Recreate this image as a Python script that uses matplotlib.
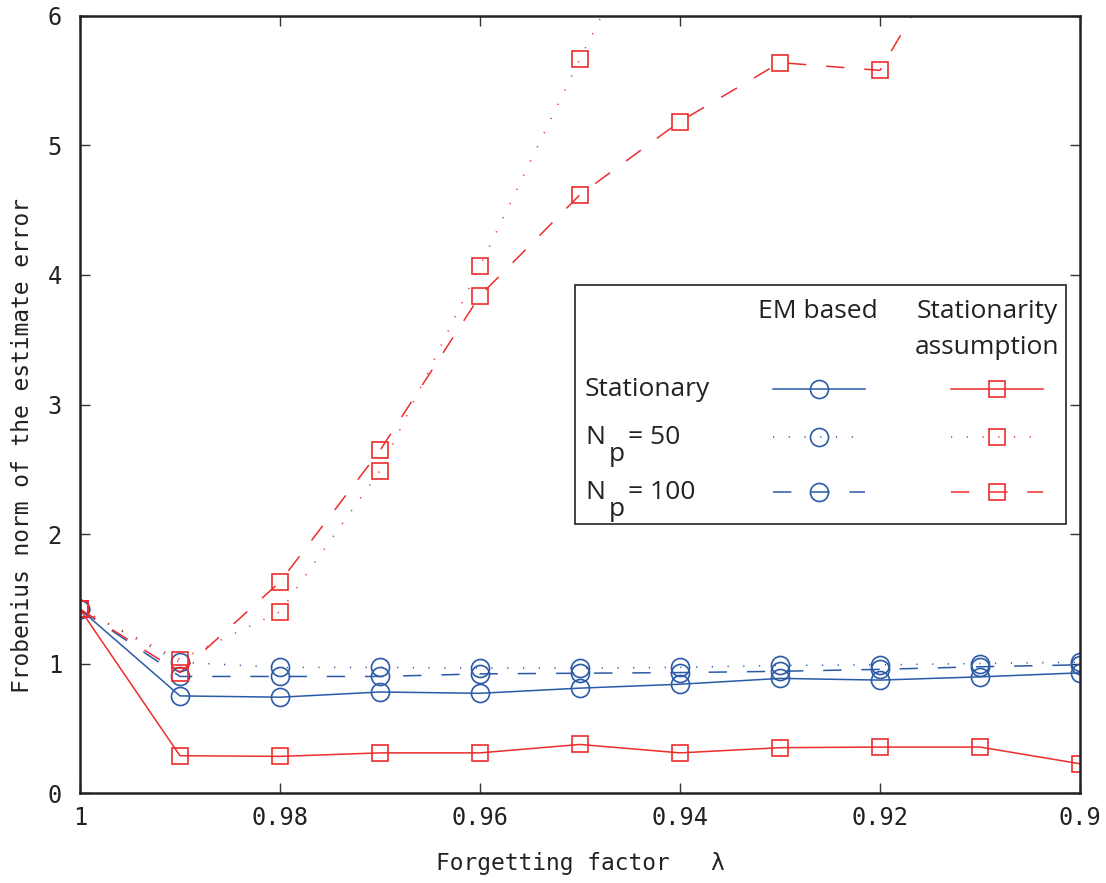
import matplotlib.pyplot as plt
from matplotlib.patches import Rectangle

# forgetting factor values (x axis runs from 1 down to 0.9)
lam = [1.00, 0.99, 0.98, 0.97, 0.96, 0.95, 0.94, 0.93, 0.92, 0.91, 0.90]

# EM based estimator
em_stationary = [1.42, 0.75, 0.74, 0.78, 0.77, 0.81, 0.84, 0.885, 0.872, 0.897, 0.928]
em_np50 = [1.42, 1.01, 0.97, 0.97, 0.965, 0.965, 0.97, 0.985, 0.99, 1.00, 1.01]
em_np100 = [1.42, 0.90, 0.90, 0.90, 0.92, 0.925, 0.93, 0.94, 0.955, 0.975, 0.99]

# estimator under the stationarity assumption
sa_stationary = [1.42, 0.288, 0.283, 0.31, 0.31, 0.375, 0.31, 0.35, 0.355, 0.355, 0.226]
sa_np50 = [1.42, 1.03, 1.40, 2.49, 4.07, 5.67, 7.2, 8.4, 9.5, 10.6, 11.5]
sa_np100 = [1.42, 0.93, 1.63, 2.645, 3.84, 4.62, 5.185, 5.64, 5.58, 6.9, 7.6]

xticks = [1.00, 0.98, 0.96, 0.94, 0.92, 0.90]
xticklabels = ['1', '0.98', '0.96', '0.94', '0.92', '0.9']
yticks = [0, 1, 2, 3, 4, 5, 6]

blue = '#2a5aa8'
red = '#ee2c2c'
solid = '-'
dotted = (0, (0.8, 9.5))
dashed = (0, (12, 13))

mono = 'DejaVu Sans Mono'
sans = 'Open Sans'

fig = plt.figure(figsize=(11.06, 8.83), dpi=100)
ax = fig.add_axes([0.0723, 0.1019, 0.9042, 0.88])

series = [
    (em_stationary, blue, solid, 'o', 13),
    (em_np50, blue, dotted, 'o', 13),
    (em_np100, blue, dashed, 'o', 13),
    (sa_stationary, red, solid, 's', 11),
    (sa_np50, red, dotted, 's', 11),
    (sa_np100, red, dashed, 's', 11),
]
for vals, color, ls, mk, ms in series:
    ax.plot(lam, vals, color=color, linestyle=ls, linewidth=1.1,
            marker=mk, markersize=ms, markerfacecolor='none',
            markeredgecolor=color, markeredgewidth=1.2)

ax.set_xlim(1.0, 0.9)
ax.set_ylim(0, 6)
ax.set_xticks(xticks)
ax.set_xticklabels(xticklabels)
ax.set_yticks(yticks)
ax.tick_params(direction='in', length=7, width=1.0, color='#333333',
               top=True, right=True, labelsize=17, labelcolor='#222222')
ax.tick_params(axis='x', pad=9)
ax.tick_params(axis='y', pad=13)
for lab in ax.get_xticklabels() + ax.get_yticklabels():
    lab.set_family(mono)
for sp in ax.spines.values():
    sp.set_linewidth(1.8)
    sp.set_color('#222222')

ax.set_xlabel('Forgetting factor   \u03bb', family=mono, fontsize=16.5,
              color='#222222', labelpad=16)
ax.set_ylabel('Frobenius norm of the estimate error', family=mono,
              fontsize=16.5, color='#222222')
ax.yaxis.set_label_coords(-0.046, 0.447)

# hand-built legend table: rows are the scenarios, columns the estimators
ax.add_patch(Rectangle((0.495, 0.346), 0.491, 0.308, transform=ax.transAxes,
                       facecolor='white', edgecolor='#222222',
                       linewidth=1.2, zorder=5))

def ax_x(px):
    return (px - 80) / 1000.0

def ax_y(py):
    return (793 - py) / 777.0

fs = 19
tk = dict(transform=ax.transAxes, family=sans, fontsize=fs, color='#222222',
          zorder=6)
ax.text(ax_x(818), ax_y(312), 'EM based', ha='center', va='center', **tk)
ax.text(ax_x(987), ax_y(312), 'Stationarity', ha='center', va='center', **tk)
ax.text(ax_x(987), ax_y(348), 'assumption', ha='center', va='center', **tk)

rows = [(389, 'Stationary', None), (437, 'N', '= 50'), (492, 'N', '= 100')]
styles = [(solid, solid), (dotted, dotted), (dashed, dashed)]
for (py, name, rest), (ls_b, ls_r) in zip(rows, styles):
    ax.text(ax_x(585), ax_y(py), name, ha='left', va='center', **tk)
    if rest is not None:
        ax.text(ax_x(609), ax_y(py + 17), 'p', ha='left', va='center', **tk)
        ax.text(ax_x(628), ax_y(py), rest, ha='left', va='center', **tk)
    ax.plot([ax_x(773), ax_x(865)], [ax_y(py)] * 2, transform=ax.transAxes,
            color=blue, linestyle=ls_b, linewidth=1.1, zorder=6)
    ax.plot([ax_x(819)], [ax_y(py)], transform=ax.transAxes, marker='o',
            markersize=13, markerfacecolor='none', markeredgecolor=blue,
            markeredgewidth=1.2, zorder=7)
    ax.plot([ax_x(951), ax_x(1043)], [ax_y(py)] * 2, transform=ax.transAxes,
            color=red, linestyle=ls_r, linewidth=1.1, zorder=6)
    ax.plot([ax_x(997)], [ax_y(py)], transform=ax.transAxes, marker='s',
            markersize=11, markerfacecolor='none', markeredgecolor=red,
            markeredgewidth=1.2, zorder=7)

fig.savefig('out.png', dpi=100)
